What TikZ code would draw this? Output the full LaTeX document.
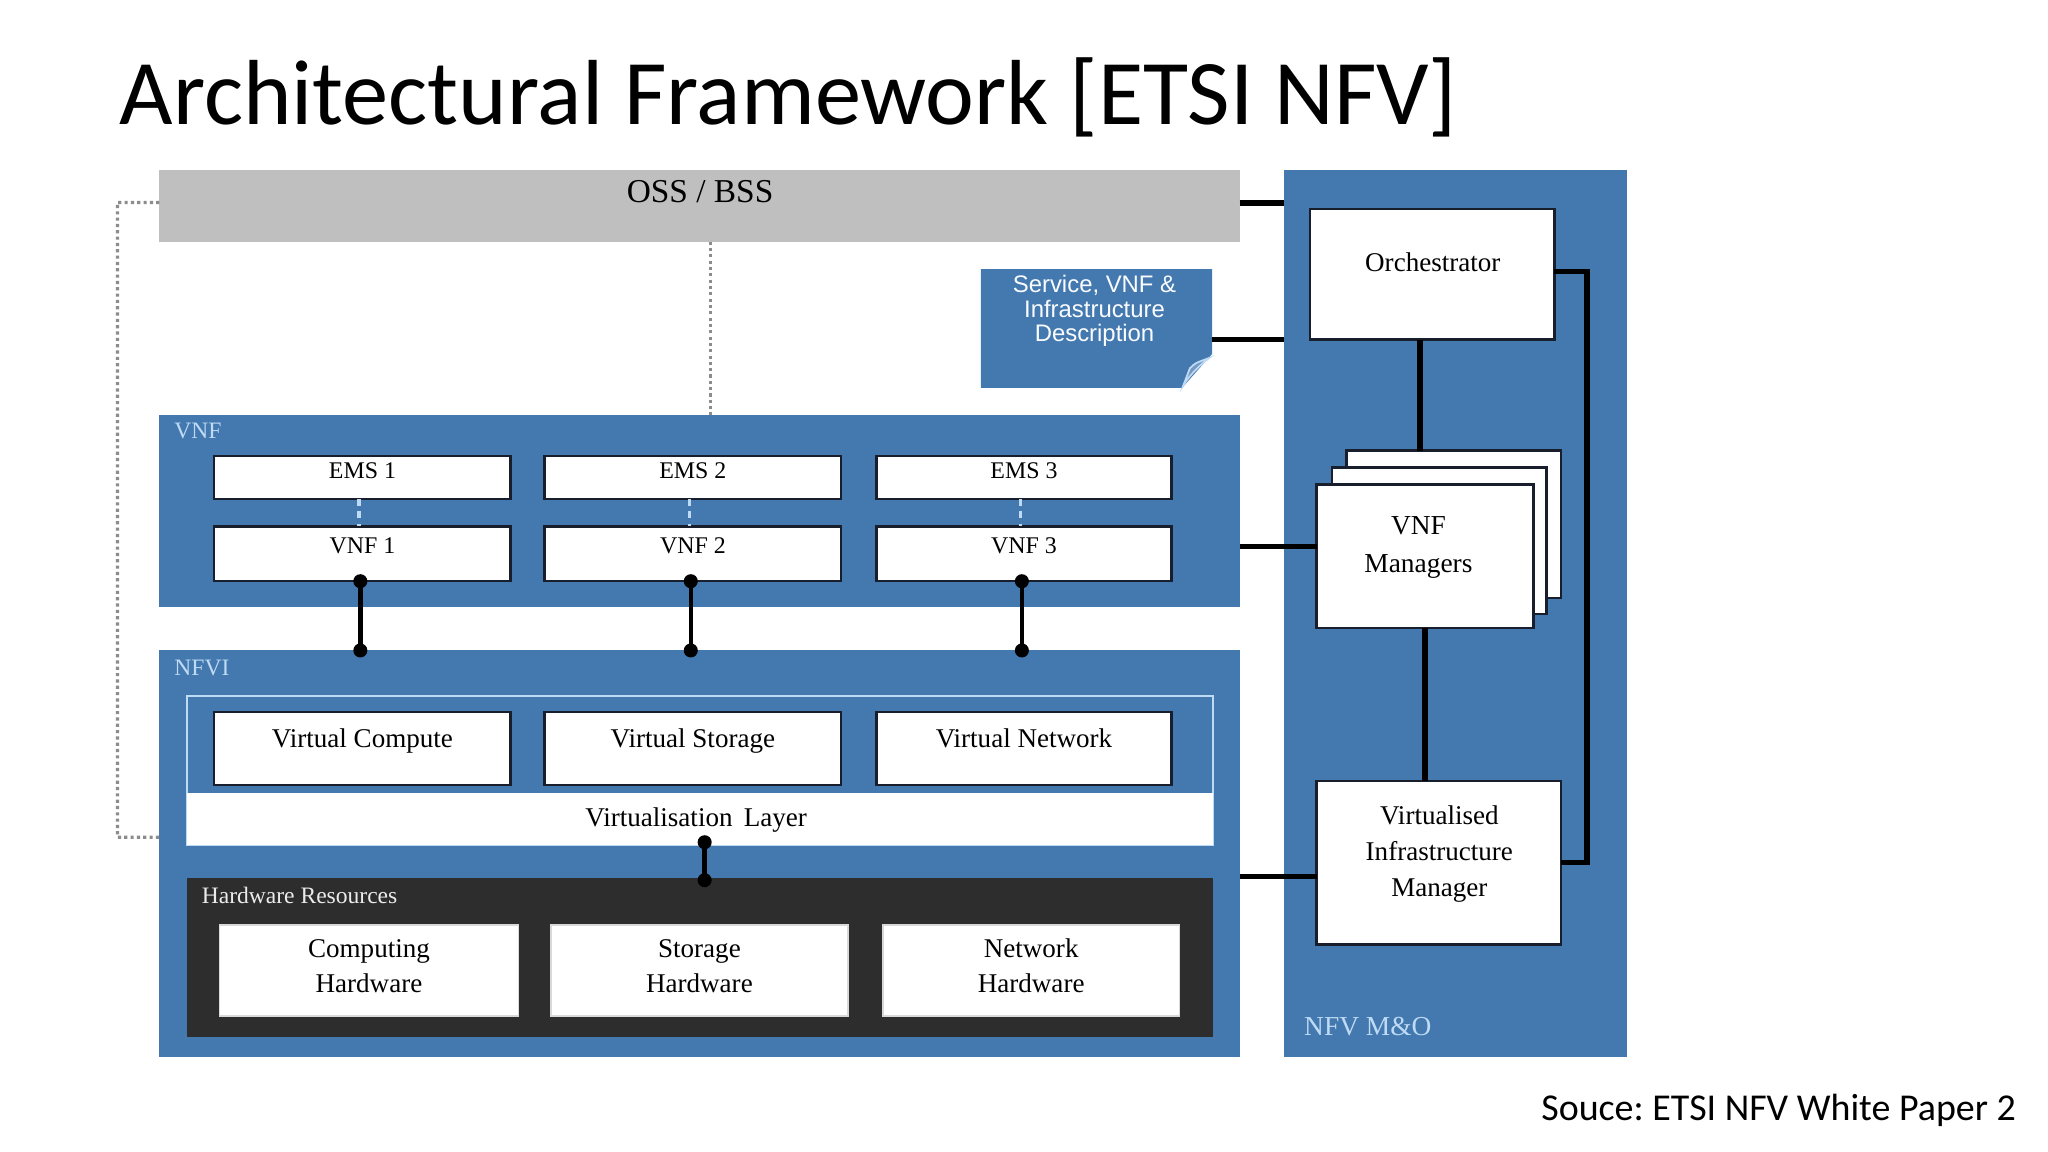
\documentclass[tikz,border=0pt]{standalone}
\usepackage{fontspec}
\setmainfont{Liberation Serif}
\newfontfamily\calibrifont{Carlito}
\newfontfamily\arialfont{Liberation Sans}
\usetikzlibrary{fit,calc}
\definecolor{nfvblue}{RGB}{68,121,175}
\definecolor{ossgray}{RGB}{191,191,191}
\definecolor{hwdark}{RGB}{45,45,45}
\definecolor{paleblue}{RGB}{190,218,245}
\definecolor{edgecol}{RGB}{25,30,45}
\definecolor{dotgray}{RGB}{140,140,140}
\frenchspacing
\begin{document}
\begin{tikzpicture}[x=0.01306cm,y=-0.01306cm,
  region/.style={inner sep=0pt, outer sep=0pt},
  bluebox/.style={region, fill=nfvblue},
  wbox/.style={region, fill=white, draw=edgecol, line width=0.7pt},
  conn/.style={line width=1.5pt, black},
  lolli/.style={line width=1.3pt, black},
  dotline/.style={dotgray, line width=0.9pt, dash pattern=on 0.9pt off 0.9pt},
  emsdot/.style={paleblue, line width=1pt, dash pattern=on 2pt off 1.5pt},
  txt/.style={inner sep=0pt, align=center, font=\fontsize{7.7}{10.2}\selectfont},
  smtxt/.style={inner sep=0pt, anchor=base, font=\fontsize{6.8}{8}\selectfont},
  grouplbl/.style={inner sep=0pt, anchor=base west, text=paleblue, font=\fontsize{6.7}{8}\selectfont}
]
\useasboundingbox[fill=white] (0,0) rectangle (1568,882);

% title and source
\node[anchor=base west, inner sep=0pt, font=\calibrifont\fontsize{26.3}{30}\selectfont] (title) at (91,95) {Architectural Framework [ETSI NFV]};
\node[anchor=base east, inner sep=0pt, font=\calibrifont\fontsize{10.8}{13}\selectfont] (source) at (1544,858) {Souce: ETSI NFV White Paper 2};

% big regions
\node[bluebox, fit={(983,130)(1246,809)}] (mano) {};
\node[region, fill=ossgray, fit={(122,130)(949,185)}] (oss) {};
\node[inner sep=0pt, font=\fontsize{9.5}{11}\selectfont] (osst) at (536,147) {OSS / BSS};

% description
\node[region, fit={(751,206)(928,297)}] (desc) {};
\fill[nfvblue] (751,206) -- (928,206) -- (928,271) -- (905,297) -- (751,297) -- cycle;
\filldraw[fill=nfvblue!75!white, draw=paleblue, line width=0.5pt]
  (906,295) -- (911,282) .. controls (915,278) .. (926,274) .. controls (918,280) and (911,287) .. (906,295) -- cycle;
\node[inner sep=0pt, align=center, text=white!90!paleblue, font=\arialfont\fontsize{6.8}{7.05}\selectfont] (desct) at (838,238) {Service, VNF \&\\Infrastructure\\Description};

% VNF block
\node[bluebox, fit={(122,318)(949,465)}] (vnfblk) {};
\node[grouplbl] (vnflbl) at (133,336) {VNF};
\foreach \i/\xa/\xb in {1/164/391, 2/417/644, 3/671/897}{
  \node[wbox, fit={(\xa,349)(\xb,382)}] (ems\i) {};
  \node[wbox, fit={(\xa,403)(\xb,445)}] (vnf\i) {};
  \node[smtxt] (emst\i) at (ems\i.center |- 0,366) {EMS \i};
  \node[smtxt] (vnft\i) at (vnf\i.center |- 0,424) {VNF \i};
  \draw[emsdot] ([xshift=-1pt]ems\i.south) -- ([xshift=-1pt]vnf\i.north);
}

% NFVI block
\node[bluebox, fit={(122,498)(949,809)}] (nfvi) {};
\node[grouplbl] (nfvilbl) at (133,517) {NFVI};
\node[region, draw=paleblue, line width=0.6pt, fit={(143,533)(929,647)}] (virt) {};
\node[region, fill=white, fit={(143,607)(929,647)}] (virtlayer) {};
\node[txt, anchor=base] (virtlayert) at (533,633) {Virtualisation\, Layer};
\foreach \i/\xa/\xb/\t in {1/164/391/{Virtual Compute}, 2/417/644/{Virtual Storage}, 3/671/897/{Virtual Network}}{
  \node[wbox, fit={(\xa,545)(\xb,601)}] (vr\i) {};
  \node[txt, anchor=base] (vrt\i) at (vr\i.center |- 0,572) {\t};
}
\node[region, fill=hwdark, fit={(143,672)(929,794)}] (hw) {};
\node[inner sep=0pt, anchor=base west, text=white!92!black, font=\fontsize{6.7}{8}\selectfont] (hwlbl) at (154,692) {Hardware Resources};
\foreach \i/\xa/\xb/\t in {1/168/397/{Computing\\Hardware}, 2/422/649/{Storage\\Hardware}, 3/676/903/{Network\\Hardware}}{
  \node[region, fill=white, draw=white!85!black, line width=0.5pt, fit={(\xa,708)(\xb,778)}] (hwb\i) {};
  \node[txt, font=\fontsize{7.7}{10}\selectfont] (hwt\i) at ([yshift=1.3pt]hwb\i.center) {\t};
}

% lollipops VNF -> NFVI
\foreach \i in {1,2,3}{
  \draw[lolli] ([xshift=-0.6pt]vnf\i.south) -- ([xshift=-0.6pt]vnf\i.south |- nfvi.north);
  \fill ([xshift=-0.6pt]vnf\i.south) circle (2pt);
  \fill ([xshift=-0.6pt]vnf\i.south |- nfvi.north) circle (2pt);
}
% lollipop virtualisation layer -> hardware
\draw[lolli] ([xshift=1.3pt]virtlayer.south) -- ([xshift=1.3pt]virtlayer.south |- hw.north);
\fill ([xshift=1.3pt,yshift=0.8pt]virtlayer.south) circle (2pt);
\fill ([xshift=1.3pt,yshift=-0.7pt]virtlayer.south |- hw.north) circle (2pt);

% MANO internals
\node[wbox, fit={(1003,160)(1190,260)}] (orch) {};
\node[txt, anchor=base] (orcht) at (1097,208) {Orchestrator};
\node[wbox, fit={(1031,345)(1195,458)}] (vnfm3) {};
\node[wbox, fit={(1020,358)(1184,470)}] (vnfm2) {};
\node[wbox, fit={(1008,371)(1174,481)}] (vnfm1) {};
\node[txt, font=\fontsize{7.8}{10.7}\selectfont] (vnfmt) at (1086,419) {VNF\\Managers};
\node[wbox, fit={(1008,598)(1195,723)}] (vim) {};
\node[txt] (vimt) at (1102,654) {Virtualised\\Infrastructure\\Manager};
\node[grouplbl, font=\fontsize{7.8}{9}\selectfont] (manolbl) at (998,793) {NFV M\&O};

% connectors
\draw[conn] ([yshift=0.8pt]oss.east) -- ([yshift=0.8pt]oss.east -| mano.west);
\draw[conn] ([yshift=-3.1pt]desc.east) -- ([yshift=-3.1pt]desc.east -| mano.west);
\draw[conn] ([yshift=2.9pt]vnfm1.west) -- ([yshift=2.9pt]vnfm1.west -| vnfblk.east);
\draw[conn] ([yshift=-3.9pt]vim.west) -- ([yshift=-3.9pt]vim.west -| nfvi.east);
\draw[conn] ([xshift=-3.5pt]orch.south) -- ([xshift=-3.5pt]orch.south |- vnfm3.north);
\draw[conn] (vnfm1.south) -- (vnfm1.south |- vim.north);
\draw[conn] ([yshift=0.7pt]orch.east) -| (1215,400) |- (vim.east);

% dotted reference points
\draw[dotline] ([yshift=0.9pt]oss.west) -- (90,155) |- (nfvi.west |- 0,641);
\draw[dotline] ([xshift=3.1pt]oss.south) -- ([xshift=3.1pt]oss.south |- vnfblk.north);
\end{tikzpicture}
\end{document}
